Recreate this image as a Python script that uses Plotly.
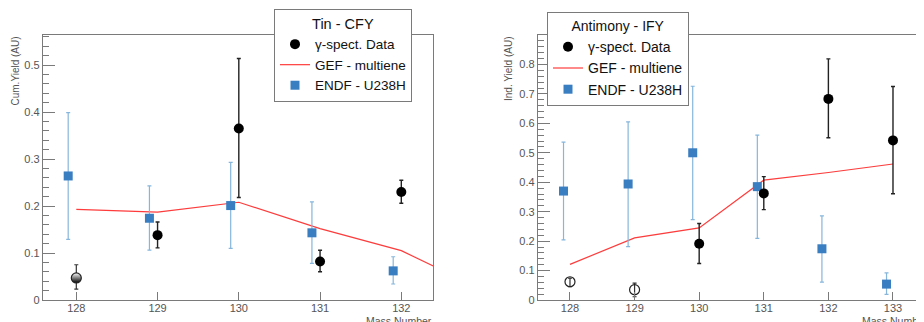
import plotly.graph_objects as go

# The page places the figure 8 px from the top-left corner of the window,
# so the figure is sized to fill the rest of the 924x322 window.
OFF = 8
W, H = 924 - OFF, 322 - OFF


def px(x):
    return (x - OFF) / W


def py(y):
    return (H - (y - OFF)) / H


# ---------------- Left panel: Tin - CFY ----------------
tin_mass = [128, 129, 130, 131, 132]
tin_data_y = [0.047, 0.138, 0.365, 0.082, 0.230]
tin_data_up = [0.075, 0.166, 0.514, 0.106, 0.255]
tin_data_lo = [0.023, 0.111, 0.218, 0.060, 0.206]
tin_data_open = [True, False, False, False, False]

tin_endf_x = [127.9, 128.9, 129.9, 130.9, 131.9]
tin_endf_y = [0.264, 0.174, 0.201, 0.143, 0.062]
tin_endf_up = [0.399, 0.243, 0.293, 0.209, 0.092]
tin_endf_lo = [0.129, 0.106, 0.110, 0.078, 0.034]

tin_gef_x = [128, 129, 130, 131, 132, 133]
tin_gef_y = [0.193, 0.187, 0.208, 0.152, 0.105, 0.022]

# ---------------- Right panel: Antimony - IFY ----------------
sb_mass = [128, 129, 130, 131, 132, 133]
sb_data_y = [0.062, 0.035, 0.191, 0.362, 0.683, 0.542]
sb_data_up = [0.074, 0.057, 0.260, 0.419, 0.819, 0.725]
sb_data_lo = [0.045, 0.011, 0.124, 0.307, 0.551, 0.361]
sb_data_open = [True, True, False, False, False, False]

sb_endf_x = [127.9, 128.9, 129.9, 130.9, 131.9, 132.9]
sb_endf_y = [0.370, 0.394, 0.500, 0.385, 0.174, 0.054]
sb_endf_up = [0.536, 0.605, 0.726, 0.560, 0.286, 0.092]
sb_endf_lo = [0.204, 0.181, 0.273, 0.209, 0.061, 0.019]

sb_gef_x = [128, 129, 130, 131, 132, 133]
sb_gef_y = [0.121, 0.211, 0.245, 0.407, 0.433, 0.462]

x_ticks_left = [128, 129, 130, 131, 132]
x_ticks_right = [128, 129, 130, 131, 132, 133]
y_ticks_left = [0, 0.1, 0.2, 0.3, 0.4, 0.5]
y_ticks_right = [0, 0.1, 0.2, 0.3, 0.4, 0.5, 0.6, 0.7, 0.8]

BLUE = "#3a7ec2"
BLUE_ERR = "#86b6dc"
RED = "#ff3b3b"
AXC = "#7a7a7a"
TXT = "#555555"

fig = go.Figure()


def add_panel(xa, ya, leg, mass, dy, dup, dlo, dopen, ex, ey, eup, elo, gx, gy,
              half_filled=False):
    fx = [m for m, o in zip(mass, dopen) if not o]
    fy = [v for v, o in zip(dy, dopen) if not o]
    fu = [u - v for u, v, o in zip(dup, dy, dopen) if not o]
    fl = [v - l for l, v, o in zip(dlo, dy, dopen) if not o]
    ox = [m for m, o in zip(mass, dopen) if o]
    oy = [v for v, o in zip(dy, dopen) if o]
    ou = [u - v for u, v, o in zip(dup, dy, dopen) if o]
    ol = [v - l for l, v, o in zip(dlo, dy, dopen) if o]

    fig.add_trace(go.Scatter(
        x=gx, y=gy, mode="lines", name="GEF - multiene",
        line=dict(color=RED, width=1.2),
        xaxis=xa, yaxis=ya, legend=leg, legendrank=2))
    fig.add_trace(go.Scatter(
        x=ex, y=ey, mode="markers", name="ENDF - U238H",
        marker=dict(symbol="square", size=9, color=BLUE),
        error_y=dict(type="data", symmetric=False,
                     array=[u - v for u, v in zip(eup, ey)],
                     arrayminus=[v - l for l, v in zip(elo, ey)],
                     color=BLUE_ERR, thickness=1.2, width=2),
        xaxis=xa, yaxis=ya, legend=leg, legendrank=3))
    if half_filled:
        omarker = dict(symbol="circle", size=10, color="white",
                       gradient=dict(type="vertical", color="black"),
                       line=dict(width=1.2, color="#222222"))
    else:
        omarker = dict(symbol="circle-open", size=10, color="#222222",
                       line=dict(width=1.2))
    fig.add_trace(go.Scatter(
        x=ox, y=oy, mode="markers", name="γ-spect. Data", showlegend=False,
        marker=omarker,
        error_y=dict(type="data", symmetric=False, array=ou, arrayminus=ol,
                     color="#333333", thickness=1.2, width=2),
        xaxis=xa, yaxis=ya, legend=leg))
    fig.add_trace(go.Scatter(
        x=fx, y=fy, mode="markers", name="γ-spect. Data",
        marker=dict(symbol="circle", size=10, color="black"),
        error_y=dict(type="data", symmetric=False, array=fu, arrayminus=fl,
                     color="#222222", thickness=1.4, width=2),
        xaxis=xa, yaxis=ya, legend=leg, legendrank=1))


add_panel("x", "y", "legend", tin_mass, tin_data_y, tin_data_up, tin_data_lo,
          tin_data_open, tin_endf_x, tin_endf_y, tin_endf_up, tin_endf_lo,
          tin_gef_x, tin_gef_y, half_filled=True)
add_panel("x2", "y2", "legend2", sb_mass, sb_data_y, sb_data_up, sb_data_lo,
          sb_data_open, sb_endf_x, sb_endf_y, sb_endf_up, sb_endf_lo,
          sb_gef_x, sb_gef_y)

ydom = [py(300), py(35)]

common_x = dict(ticks="inside", ticklen=8, tickcolor=AXC, showline=True,
                linecolor=AXC, linewidth=1.3, showgrid=False, zeroline=False,
                automargin=False, ticklabelstandoff=-2,
                tickfont=dict(family="Liberation Sans, Arial", size=11, color=TXT))
common_y = dict(ticks="inside", ticklen=12, tickcolor=AXC, showline=True,
                linecolor=AXC, linewidth=1.3, showgrid=False, zeroline=False,
                automargin=False,
                tickfont=dict(family="Liberation Sans, Arial", size=11, color=TXT),
                minor=dict(tickmode="linear", tick0=0, dtick=0.02, ticks="inside",
                           ticklen=6, tickcolor=AXC))

fig.update_layout(
    width=W, height=H, margin=dict(l=0, r=0, t=0, b=0, autoexpand=False),
    paper_bgcolor="white", plot_bgcolor="white",
    font=dict(family="Liberation Sans, Arial", color="black"),
    xaxis=dict(domain=[px(43), px(433)], range=[127.59, 132.39],
               tickvals=x_ticks_left, mirror=True, anchor="y", **common_x),
    yaxis=dict(domain=ydom, range=[0, 0.564], tickvals=y_ticks_left,
               mirror=True, anchor="x", **common_y),
    xaxis2=dict(domain=[px(538), 1.0], range=[127.505, 133.48],
                tickvals=x_ticks_right, mirror=True, anchor="y2", **common_x),
    yaxis2=dict(domain=ydom, range=[0, 0.9], tickvals=y_ticks_right,
                mirror=False, anchor="x2", **common_y),
    legend=dict(x=px(274), y=py(9), xanchor="left", yanchor="top",
                bgcolor="white", bordercolor=AXC, borderwidth=1,
                font=dict(size=13.5, color="#111111"),
                title=dict(text="Tin - CFY", side="top center",
                           font=dict(size=14.5, color="#111111")),
                tracegroupgap=0, itemwidth=30),
    legend2=dict(x=px(547), y=py(12), xanchor="left", yanchor="top",
                 bgcolor="white", bordercolor=AXC, borderwidth=1,
                 font=dict(size=14, color="#111111"),
                 title=dict(text="Antimony - IFY", side="top center",
                            font=dict(size=14, color="#111111")),
                 tracegroupgap=0, itemwidth=30),
    annotations=[
        dict(text="Cum.Yield (AU)", xref="paper", yref="paper",
             x=px(15), y=py(35), xanchor="center", yanchor="top",
             textangle=-90, showarrow=False,
             font=dict(size=10, color=TXT)),
        dict(text="Ind. Yield (AU)", xref="paper", yref="paper",
             x=px(509), y=py(35), xanchor="center", yanchor="top",
             textangle=-90, showarrow=False,
             font=dict(size=10, color=TXT)),
        dict(text="Mass Number", xref="paper", yref="paper",
             x=px(434), y=py(313), xanchor="right", yanchor="top",
             showarrow=False, font=dict(size=10.5, color=TXT)),
        dict(text="Mass Number", xref="paper", yref="paper",
             x=px(860), y=py(313), xanchor="left", yanchor="top",
             showarrow=False, font=dict(size=10.5, color=TXT)),
    ],
)

fig.write_html("out.html")
